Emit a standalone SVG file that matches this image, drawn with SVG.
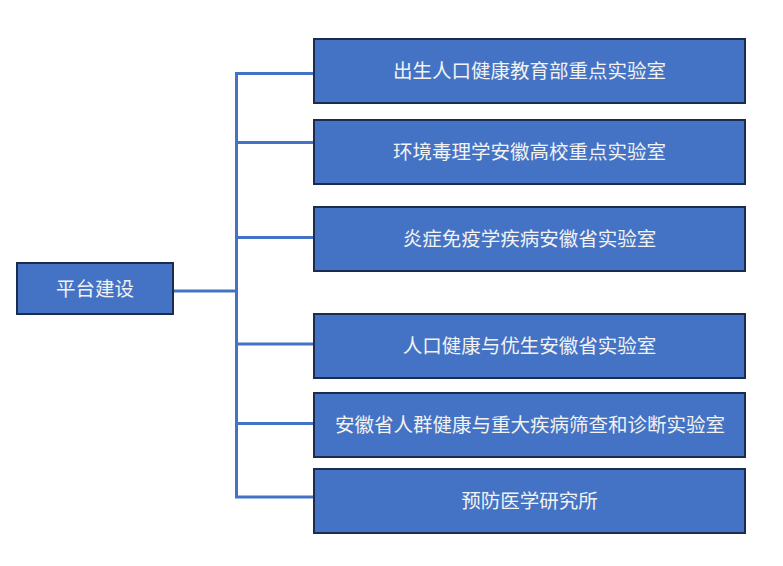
<svg xmlns="http://www.w3.org/2000/svg" width="783" height="566" viewBox="0 0 783 566">
<style>
.box{fill:#4472C4;stroke:#1B2C4F;stroke-width:2}
.lbl{fill:#F2F2F2;font-family:"Noto Sans CJK SC","Noto Sans",sans-serif;font-size:19.5px;text-anchor:middle;dominant-baseline:central}
.con{stroke:#4472C4;stroke-width:3;fill:none}
</style>
<rect width="783" height="566" fill="#FFFFFF"/>
<g id="connectors">
<line class="con" x1="236.5" y1="72.5" x2="236.5" y2="498"/>
<line class="con" x1="173" y1="291" x2="236.5" y2="291"/>
<line class="con" x1="235" y1="73.5" x2="314" y2="73.5"/>
<line class="con" x1="236.5" y1="142.5" x2="314" y2="142.5"/>
<line class="con" x1="236.5" y1="237.5" x2="314" y2="237.5"/>
<line class="con" x1="236.5" y1="344" x2="314" y2="344"/>
<line class="con" x1="236.5" y1="423.5" x2="314" y2="423.5"/>
<line class="con" x1="235" y1="497" x2="314" y2="497"/>
</g>
<g id="root">
<rect class="box" x="17" y="263" width="156" height="51"/>
<text class="lbl" x="95" y="287">平台建设</text>
</g>
<g id="n1">
<rect class="box" x="314" y="39" width="431" height="64"/>
<text class="lbl" x="529.5" y="69.5">出生人口健康教育部重点实验室</text>
</g>
<g id="n2">
<rect class="box" x="314" y="120" width="431" height="64"/>
<text class="lbl" x="529.5" y="150.5">环境毒理学安徽高校重点实验室</text>
</g>
<g id="n3">
<rect class="box" x="314" y="207" width="431" height="64"/>
<text class="lbl" x="529.5" y="237.5">炎症免疫学疾病安徽省实验室</text>
</g>
<g id="n4">
<rect class="box" x="314" y="314" width="431" height="64"/>
<text class="lbl" x="529.5" y="344.5">人口健康与优生安徽省实验室</text>
</g>
<g id="n5">
<rect class="box" x="314" y="393" width="431" height="64"/>
<text class="lbl" x="530" y="423.5">安徽省人群健康与重大疾病筛查和诊断实验室</text>
</g>
<g id="n6">
<rect class="box" x="314" y="469" width="431" height="64"/>
<text class="lbl" x="529.5" y="499.5">预防医学研究所</text>
</g>
</svg>
